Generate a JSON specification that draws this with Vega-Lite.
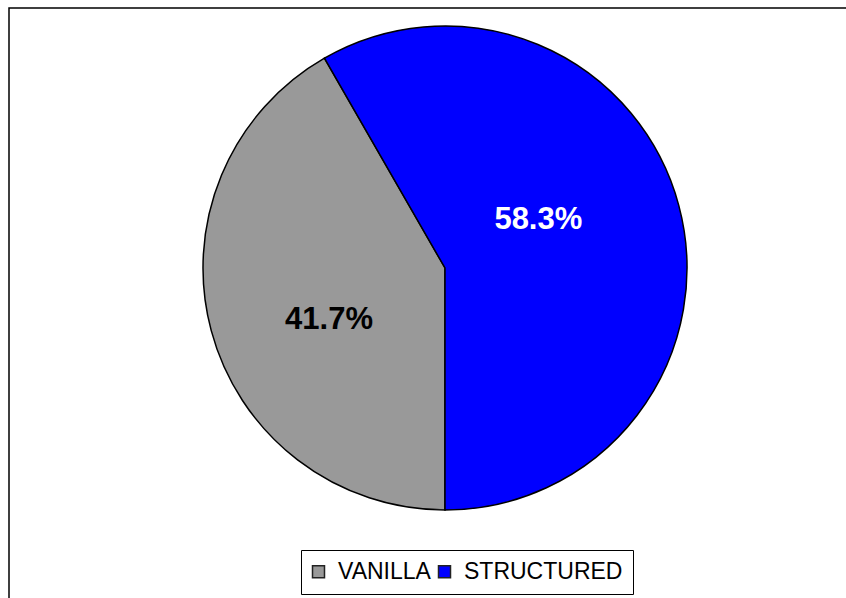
{
  "$schema": "https://vega.github.io/schema/vega-lite/v6.json",
  "autosize": {"type": "fit", "contains": "padding"},
  "width": 846,
  "height": 598,
  "padding": {"left": 9, "top": 8, "right": -2, "bottom": -2},
  "background": "white",
  "config": {
    "view": {"stroke": "black", "strokeWidth": 1.5},
    "font": "Liberation Sans"
  },
  "data": {
    "values": [
      {"cat": "VANILLA", "value": 41.7, "label": "41.7%"},
      {"cat": "STRUCTURED", "value": 58.3, "label": "58.3%"}
    ]
  },
  "encoding": {
    "theta": {"field": "value", "type": "quantitative", "stack": true, "scale": {"range": [3.14159265, 9.42477796]}},
    "order": {"field": "value", "type": "quantitative", "sort": "ascending"},
    "x": {"value": 436},
    "y": {"value": 260}
  },
  "layer": [
    {
      "mark": {"type": "arc", "outerRadius": 242, "stroke": "black", "strokeWidth": 1.5},
      "encoding": {
        "color": {
          "field": "cat",
          "type": "nominal",
          "scale": {"domain": ["VANILLA", "STRUCTURED"], "range": ["#999999", "#0000FF"]},
          "legend": {
            "title": null,
            "orient": "none",
            "direction": "horizontal",
            "legendX": 292,
            "legendY": 542,
            "symbolType": "square",
            "symbolSize": 144,
            "symbolStrokeColor": "#222222",
            "symbolStrokeWidth": 1.5,
            "symbolOpacity": 1,
            "symbolOffset": -4,
            "labelFont": "Liberation Sans",
            "labelFontSize": 23,
            "labelColor": "black",
            "labelOffset": 8,
            "columnPadding": 4,
            "padding": 10,
            "strokeColor": "black",
            "fillColor": "white"
          }
        }
      }
    },
    {
      "mark": {"type": "text", "radius": 105, "thetaOffset": -0.215, "fontSize": 31, "fontWeight": "bold", "font": "Liberation Sans", "fill": "white"},
      "encoding": {
        "text": {"condition": {"test": "datum.cat == 'STRUCTURED'", "field": "label"}, "value": ""}
      }
    },
    {
      "mark": {"type": "text", "radius": 127, "thetaOffset": -0.16, "fontSize": 31, "fontWeight": "bold", "font": "Liberation Sans", "fill": "black"},
      "encoding": {
        "text": {"condition": {"test": "datum.cat == 'VANILLA'", "field": "label"}, "value": ""}
      }
    }
  ]
}
